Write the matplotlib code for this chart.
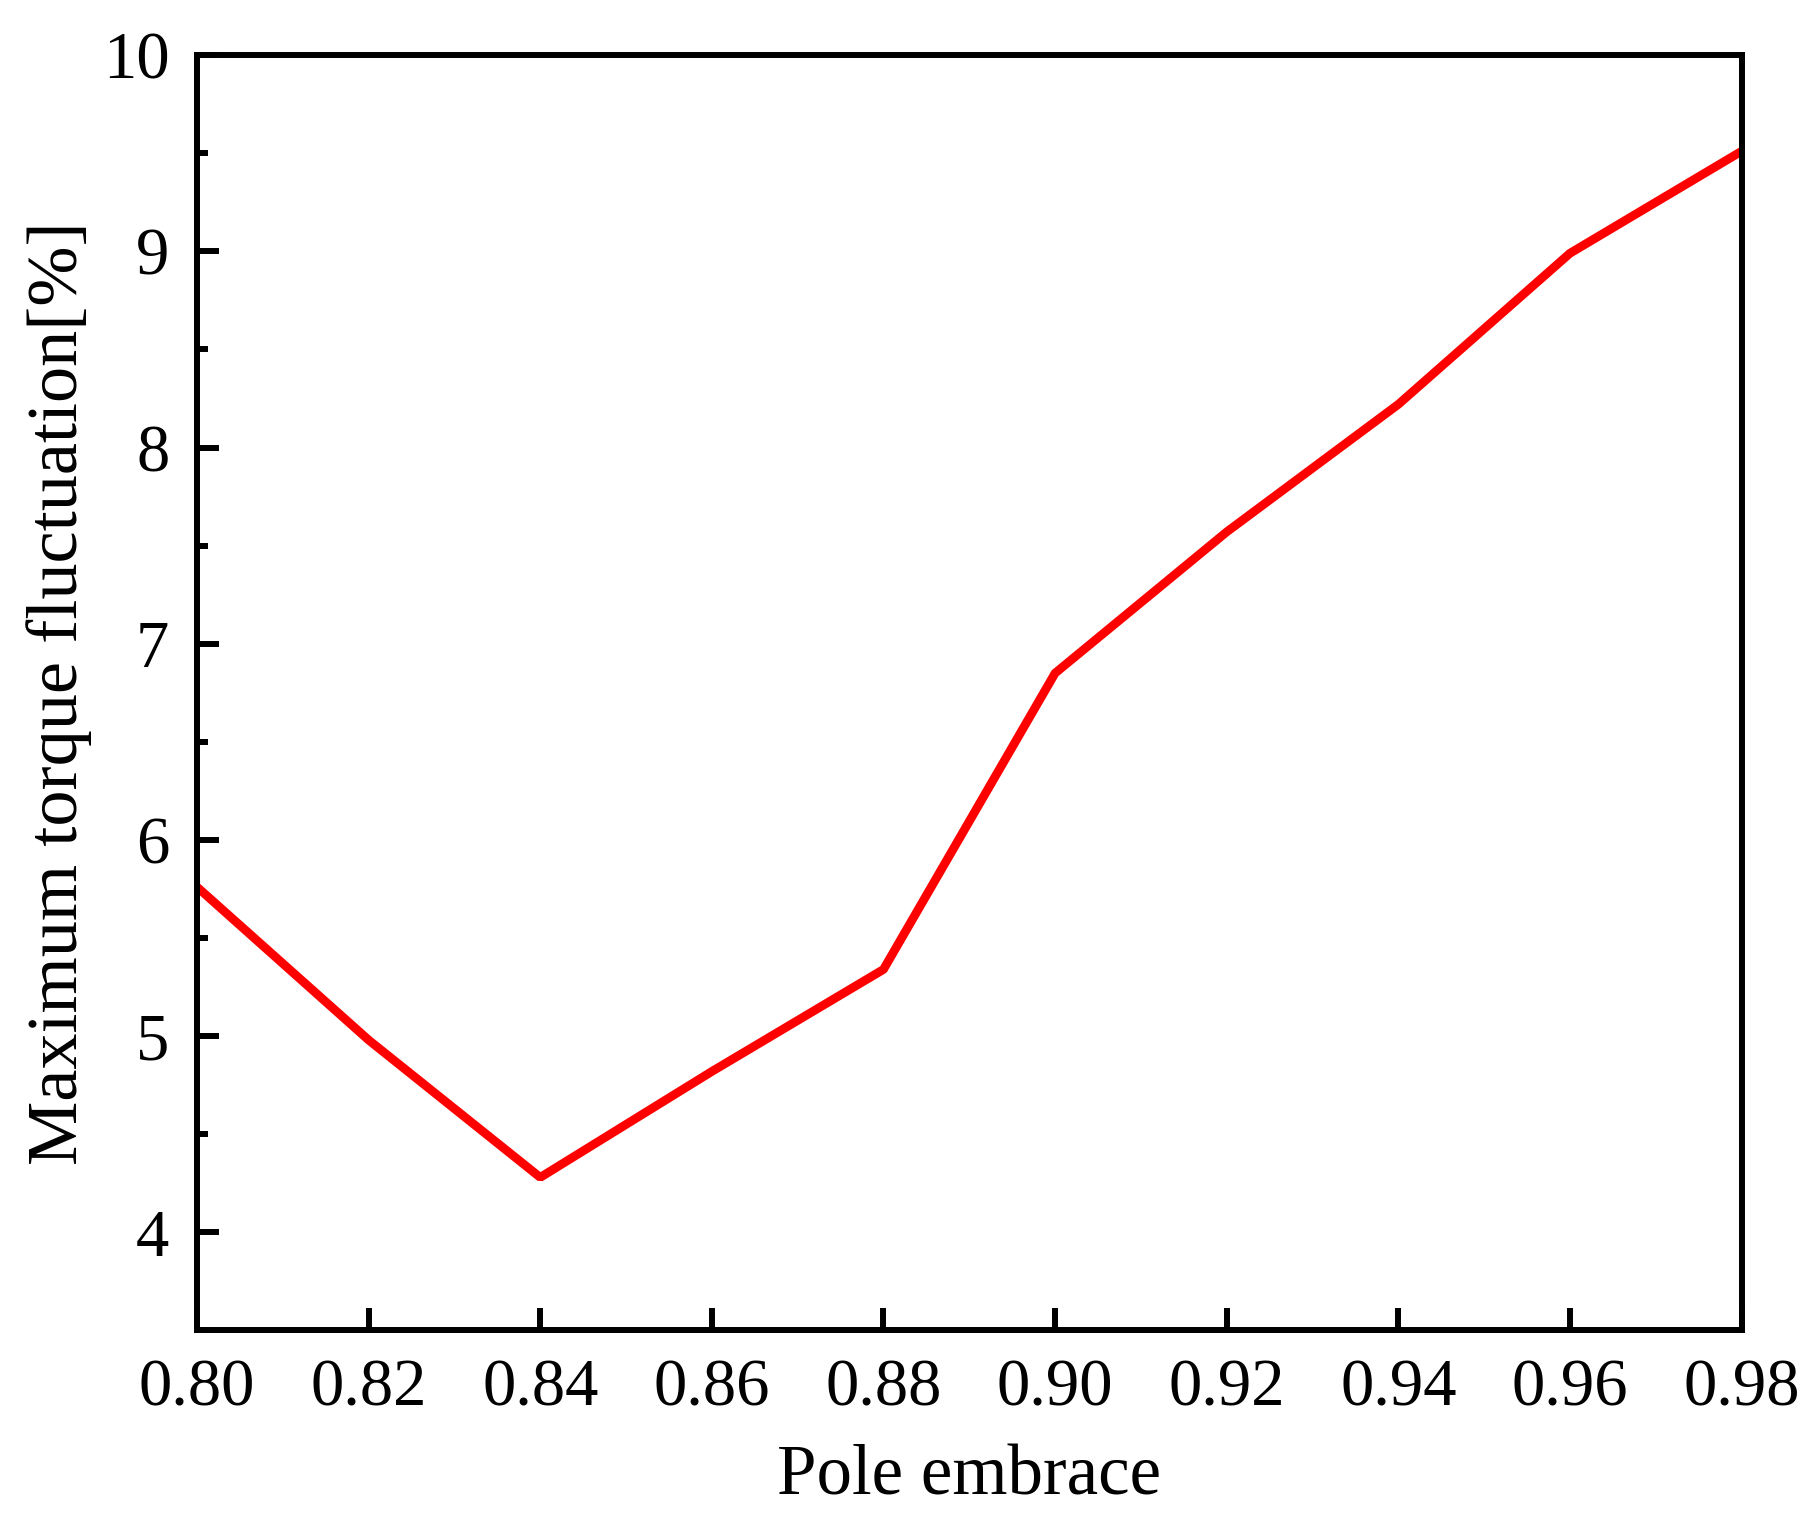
import matplotlib
matplotlib.use("Agg")
import matplotlib.pyplot as plt
from matplotlib.ticker import MultipleLocator

pole_embrace = [0.80, 0.82, 0.84, 0.86, 0.88, 0.90, 0.92, 0.94, 0.96, 0.98]
torque_fluct = [5.76, 4.98, 4.28, 4.82, 5.34, 6.85, 7.57, 8.22, 8.99, 9.51]
x_ticks = [0.80, 0.82, 0.84, 0.86, 0.88, 0.90, 0.92, 0.94, 0.96, 0.98]
y_ticks = [4, 5, 6, 7, 8, 9, 10]

plt.rcParams["font.family"] = ["Liberation Serif", "DejaVu Serif"]

fig = plt.figure(figsize=(18.16, 15.31), dpi=100)
ax = fig.add_axes([0.1085, 0.131, 0.8505, 0.833])

ax.plot(pole_embrace, torque_fluct, color="#ff0000", lw=6.3, solid_joinstyle="bevel")

ax.set_xlim(0.80, 0.98)
ax.set_ylim(3.5, 10)
ax.set_xticks(x_ticks)
ax.set_xticklabels([f"{v:.2f}" for v in x_ticks])
ax.set_yticks(y_ticks)
ax.yaxis.set_minor_locator(MultipleLocator(0.5))

for s in ax.spines.values():
    s.set_linewidth(4.3)
ax.tick_params(which="both", direction="in", width=4.3, labelsize=48,
               top=False, right=False)
ax.tick_params(which="major", length=16)
ax.tick_params(which="minor", length=8)
ax.tick_params(axis="x", pad=20)
ax.tick_params(axis="y", pad=20)

ax.set_xlabel("Pole embrace", fontsize=51, labelpad=18)
ax.set_ylabel("Maximum torque fluctuation[%]", fontsize=52, labelpad=8)

fig.savefig("out.png", dpi=100)
